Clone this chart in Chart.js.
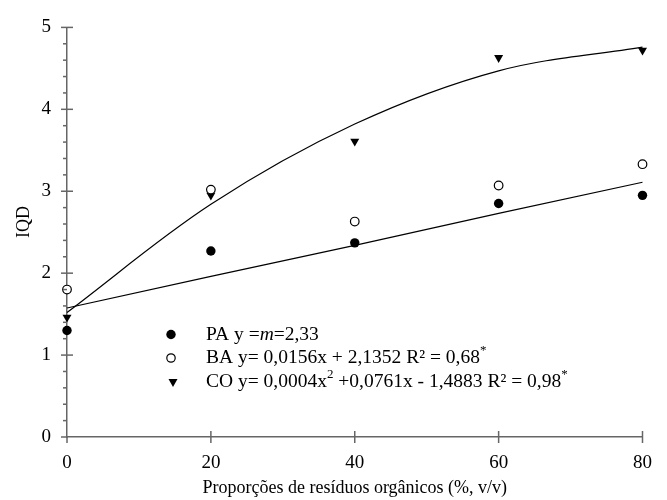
<!DOCTYPE html>
<html>
<head>
<meta charset="utf-8">
<script src="https://cdn.jsdelivr.net/npm/chart.js@4.4.0/dist/chart.umd.min.js"></script>
<style>
  html, body { margin: 0; padding: 0; background: #fff; overflow: hidden; }
  #iqdChart { display: block; }
</style>
</head>
<body>
<canvas id="iqdChart" width="667" height="500"></canvas>
<script>
// valores
const xValues = [0, 20, 40, 60, 80];
const paValues = [1.30, 2.27, 2.37, 2.85, 2.95];
const baValues = [1.80, 3.02, 2.63, 3.07, 3.33];
const coValues = [1.46, 2.95, 3.61, 4.63, 4.72];
// linhas de ajuste
const linFitValues = [1.575, 1.96, 2.34, 2.73, 3.11];
const quadFitValues = [1.52, 2.84, 3.82, 4.47, 4.76];
const xTicks = [0, 20, 40, 60, 80];
const yTicks = [0, 1, 2, 3, 4, 5];

const serif = "'Liberation Serif', 'DejaVu Serif', serif";
const axisColor = '#666666';
const fontPx = 19.5;

function toPoints(ys) {
    return xValues.map((x, i) => ({ x: x, y: ys[i] }));
}

const axesPlugin = {
    id: 'axesExtras',
    afterDraw(chart) {
        const ctx = chart.ctx;
        const xs = chart.scales.x;
        const ys = chart.scales.y;
        ctx.save();
        ctx.strokeStyle = axisColor;
        ctx.lineWidth = 1.5;
        // y ticks
        yTicks.forEach(v => {
            const py = ys.getPixelForValue(v);
            ctx.beginPath();
            ctx.moveTo(xs.left - 6, py);
            ctx.lineTo(xs.left + (v === 0 ? 0 : 6), py);
            ctx.stroke();
        });
        for (let i = 1; i < 25; i++) {
            if (i % 5 === 0) continue;
            const py = ys.getPixelForValue(i * 0.2);
            ctx.beginPath();
            ctx.moveTo(xs.left - 4, py);
            ctx.lineTo(xs.left, py);
            ctx.stroke();
        }
        // x ticks
        xTicks.forEach(v => {
            const px = xs.getPixelForValue(v);
            ctx.beginPath();
            ctx.moveTo(px, ys.bottom - (v === 0 ? 0 : 6));
            ctx.lineTo(px, ys.bottom + 6);
            ctx.stroke();
        });

        // títulos dos eixos
        ctx.fillStyle = '#000';
        ctx.font = '18px ' + serif;
        ctx.textAlign = 'center';
        ctx.textBaseline = 'middle';
        ctx.fillText('Proporções de resíduos orgânicos (%, v/v)', (xs.left + xs.right) / 2, 488);
        ctx.save();
        ctx.translate(24, 222);
        ctx.rotate(-Math.PI / 2);
        ctx.fillText('IQD', 0, 0);
        ctx.restore();

        // legenda
        const mx = 171, tx = 206;
        const rows = [334.5, 358, 381.7];
        ctx.fillStyle = '#000';
        ctx.strokeStyle = '#000';
        ctx.lineWidth = 1.2;
        ctx.beginPath();
        ctx.arc(mx, rows[0], 4.7, 0, Math.PI * 2);
        ctx.fill();
        ctx.beginPath();
        ctx.arc(mx, rows[1], 4.2, 0, Math.PI * 2);
        ctx.stroke();
        const r = 5.2;
        ctx.beginPath();
        ctx.moveTo(mx + 2, rows[2] + r);
        ctx.lineTo(mx + 2 - r * 0.866, rows[2] - r / 2);
        ctx.lineTo(mx + 2 + r * 0.866, rows[2] - r / 2);
        ctx.closePath();
        ctx.fill();

        ctx.textAlign = 'left';
        ctx.textBaseline = 'middle';
        const parts = [
            [['PA y =', ''], ['m', 'i'], ['=2,33', '']],
            [['BA y= 0,0156x + 2,1352 R² = 0,68', ''], ['*', 's']],
            [['CO y= 0,0004x', ''], ['2', 's'], [' +0,0761x - 1,4883 R² = 0,98', ''], ['*', 's']]
        ];
        parts.forEach((row, ri) => {
            let cx = tx;
            row.forEach(([txt, st]) => {
                let yy = rows[ri];
                if (st === 'i') ctx.font = 'italic ' + fontPx + 'px ' + serif;
                else if (st === 's') { ctx.font = '13px ' + serif; yy -= 7; }
                else ctx.font = fontPx + 'px ' + serif;
                ctx.fillText(txt, cx, yy);
                cx += ctx.measureText(txt).width;
            });
        });
        ctx.restore();
    }
};

const ctx = document.getElementById('iqdChart');
const myChart = new Chart(ctx, {
    type: 'scatter',
    data: {
        datasets: [
            {
                label: 'PA',
                data: toPoints(paValues),
                pointStyle: 'circle',
                pointRadius: 4.7,
                backgroundColor: '#000',
                borderColor: '#000',
                borderWidth: 0,
                clip: false
            },
            {
                label: 'BA',
                data: toPoints(baValues),
                pointStyle: 'circle',
                pointRadius: 4.3,
                backgroundColor: '#fff',
                borderColor: '#000',
                borderWidth: 1.2,
                clip: false
            },
            {
                label: 'CO',
                data: toPoints(coValues),
                pointStyle: 'triangle',
                pointRotation: 180,
                pointRadius: 5.2,
                backgroundColor: '#000',
                borderColor: '#000',
                borderWidth: 0,
                clip: false
            },
            {
                label: 'ajuste linear',
                data: toPoints(linFitValues),
                showLine: true,
                pointRadius: 0,
                borderColor: '#000',
                borderWidth: 1.2,
                clip: false
            },
            {
                label: 'ajuste quadrático',
                data: toPoints(quadFitValues),
                showLine: true,
                tension: 0.35,
                pointRadius: 0,
                borderColor: '#000',
                borderWidth: 1.2,
                clip: false
            }
        ]
    },
    options: {
        responsive: false,
        animation: false,
        devicePixelRatio: 1,
        layout: { padding: { left: 0, right: 21, top: 20, bottom: 0 } },
        plugins: {
            legend: { display: false },
            tooltip: { enabled: false }
        },
        scales: {
            x: {
                type: 'linear',
                min: 0,
                max: 80,
                afterFit: s => { s.height = 63; },
                afterBuildTicks: s => { s.ticks = xTicks.map(v => ({ value: v })); },
                ticks: { color: '#000', font: { family: serif, size: 19 }, padding: 15 },
                grid: { display: false, drawTicks: false },
                border: { display: true, color: axisColor, width: 1.5 }
            },
            y: {
                min: 0,
                max: 5,
                afterFit: s => { s.width = 67; },
                afterBuildTicks: s => { s.ticks = yTicks.map(v => ({ value: v })); },
                ticks: { color: '#000', font: { family: serif, size: 19 }, padding: 16 },
                grid: { display: false, drawTicks: false },
                border: { display: true, color: axisColor, width: 1.5 }
            }
        }
    },
    plugins: [axesPlugin]
});
</script>
</body>
</html>
